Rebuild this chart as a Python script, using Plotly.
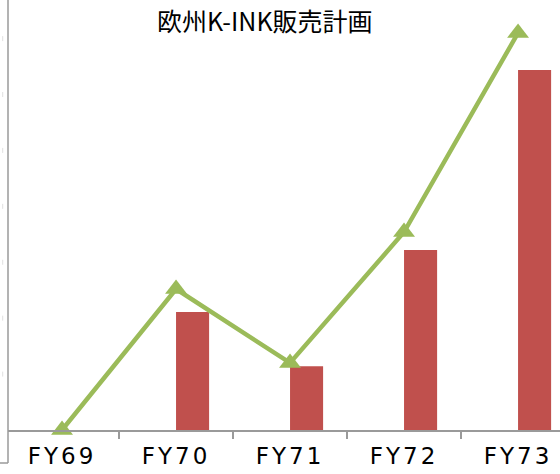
import plotly.graph_objects as go

categories = ["FY69", "FY70", "FY71", "FY72", "FY73"]
bar_values = [0, 211, 114, 322, 644]
line_values = [0, 252, 120, 354, 710]
y_ticks = [100, 200, 300, 400, 500, 600, 700]
title_text = "欧州K-INK販売計画"

W, H = 560, 474
ML, MR, MT, MB = 8, 0, 0, 44
plot_w = W - ML - MR
plot_h = H - MT - MB
x_range = [-0.474, 4.368]
y_range = [0, 769]
px_per_unit_y = plot_h / (y_range[1] - y_range[0])

fig = go.Figure()
fig.add_trace(go.Bar(
    x=categories, y=bar_values,
    marker=dict(color="#C0504D", line=dict(width=0)),
    offset=0, width=0.29,
    showlegend=False,
))
fig.add_trace(go.Scatter(
    x=categories, y=line_values,
    mode="lines+markers",
    line=dict(color="#9BBB59", width=4.5),
    marker=dict(symbol="triangle-up", size=19, color="#9BBB59"),
    cliponaxis=False,
    showlegend=False,
))

shapes = [
    dict(type="line", xref="paper", yref="paper", x0=0, x1=0,
         y0=-(463 - 430) / plot_h, y1=1.0, line=dict(color="#9a9a9a", width=1.5)),
    dict(type="line", xref="paper", yref="paper", x0=-ML / plot_w, x1=0,
         y0=-(463 - 430) / plot_h, y1=-(463 - 430) / plot_h, line=dict(color="#9a9a9a", width=1.5)),
]
for t in y_ticks:
    d = 2.5 / px_per_unit_y
    shapes.append(dict(type="line", xref="paper", yref="y",
                       x0=-5.3 / plot_w, x1=-5.3 / plot_w, y0=t - d, y1=t + d,
                       line=dict(color="#e0e0e0", width=1)))

fig.update_layout(
    width=W, height=H,
    margin=dict(l=ML, r=MR, t=MT, b=MB, pad=0),
    paper_bgcolor="white", plot_bgcolor="white",
    showlegend=False,
    shapes=shapes,
    annotations=[dict(
        text=title_text, xref="paper", yref="paper",
        x=(265 - ML) / plot_w, y=1.0,
        xanchor="center", yanchor="top", showarrow=False,
        font=dict(family="Noto Sans CJK JP", size=25, color="#000000"),
    )],
    xaxis=dict(
        range=x_range, showgrid=False, zeroline=False,
        showline=True, linecolor="#9a9a9a", linewidth=1.5,
        ticks="outside", tickson="boundaries", ticklen=7, tickcolor="#9a9a9a", tickwidth=1.5,
        ticklabelstandoff=5,
        tickfont=dict(family="DejaVu Sans", size=23, color="#000000"),
        fixedrange=True,
    ),
    yaxis=dict(
        range=y_range, showgrid=False, zeroline=False, showline=False,
        showticklabels=False, ticks="", fixedrange=True,
    ),
)

post = """
document.body.style.margin = '0';
document.body.style.overflow = 'hidden';
document.querySelectorAll('.xtick text').forEach(function(t){
  t.style.letterSpacing = '3px';
});
"""

fig.write_html("out.html", post_script=post, config={"displayModeBar": False})
